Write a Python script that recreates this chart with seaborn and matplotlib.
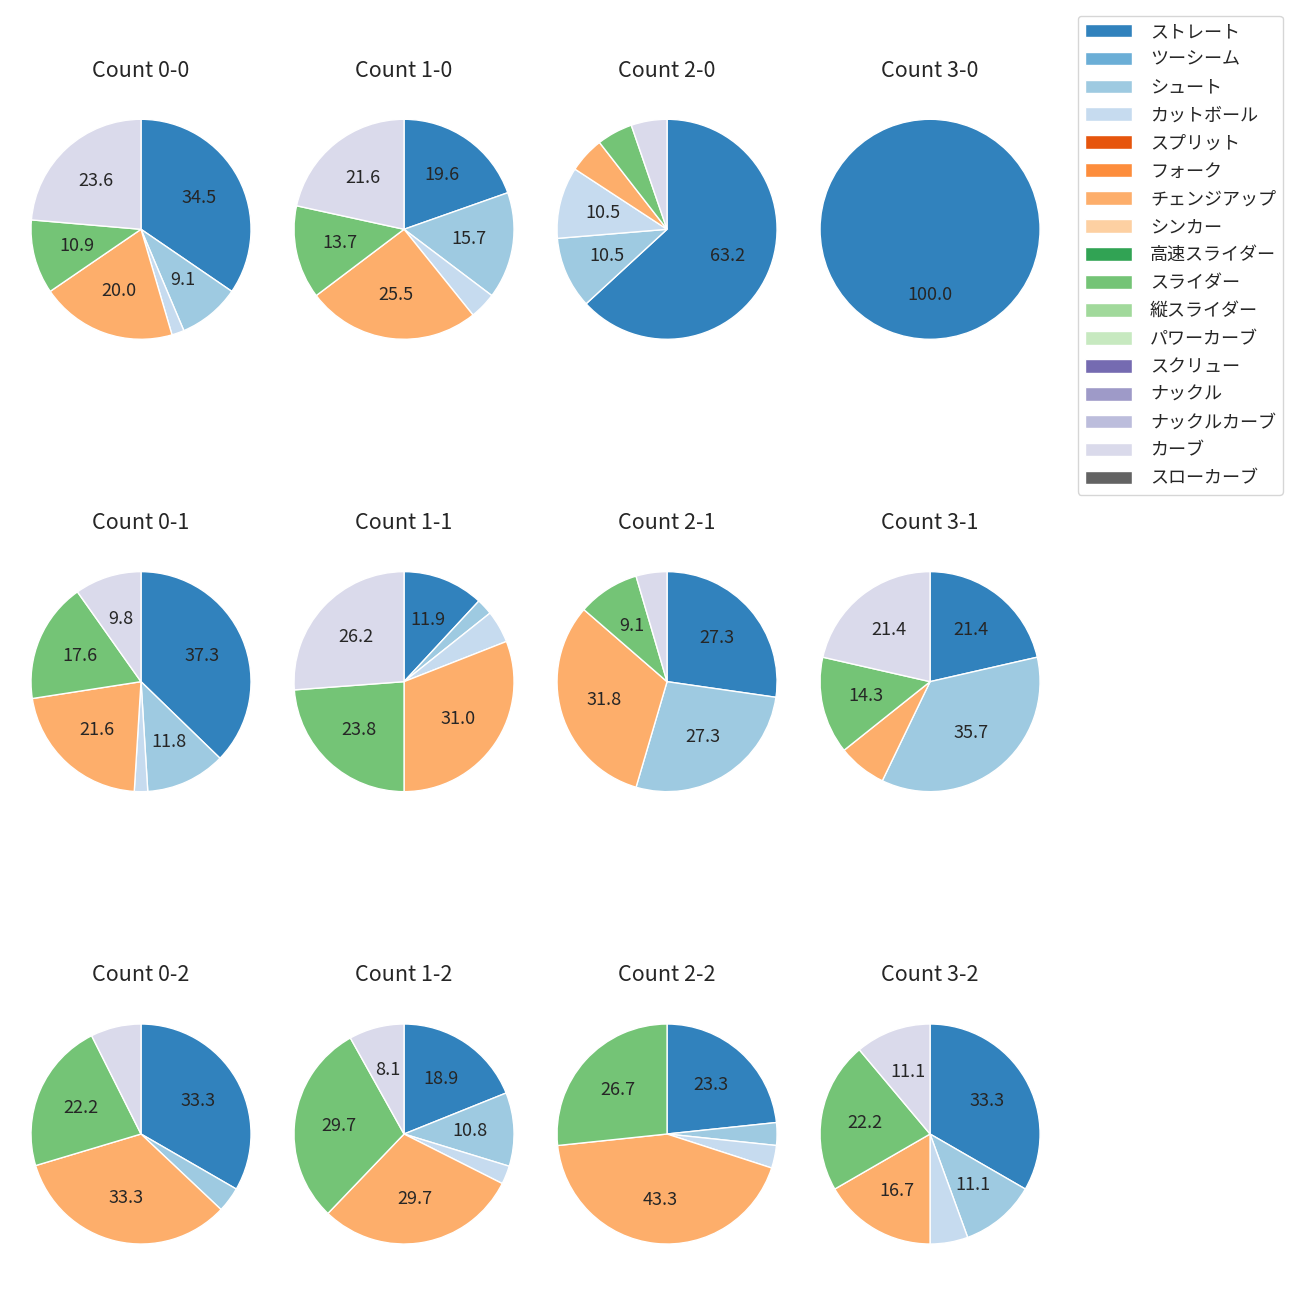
import matplotlib
matplotlib.use("Agg")
import matplotlib.pyplot as plt
import seaborn as sns
from matplotlib.patches import Patch

sns.set_theme(style="white")
plt.rcParams['font.family'] = ['Noto Sans CJK JP', 'DejaVu Sans']

# pitch types and colours (tab20c order)
pitch_types = ['ストレート', 'ツーシーム', 'シュート', 'カットボール', 'スプリット', 'フォーク',
               'チェンジアップ', 'シンカー', '高速スライダー', 'スライダー', '縦スライダー',
               'パワーカーブ', 'スクリュー', 'ナックル', 'ナックルカーブ', 'カーブ', 'スローカーブ']
palette = sns.color_palette('tab20c', 20)
pitch_colors = [palette[i] for i in range(16)] + [palette[16]]

counts = ['0-0', '1-0', '2-0', '3-0',
          '0-1', '1-1', '2-1', '3-1',
          '0-2', '1-2', '2-2', '3-2']

# pitch counts per ball-strike count, in pitch_types order
#                 St Tw Sh Cu Sp Fo Ch Si HS Sl VS PC Sc Kn KC Cv SC
pitches_0_0 = [19, 0, 5, 1, 0, 0, 11, 0, 0, 6, 0, 0, 0, 0, 0, 13, 0]
pitches_1_0 = [10, 0, 8, 2, 0, 0, 13, 0, 0, 7, 0, 0, 0, 0, 0, 11, 0]
pitches_2_0 = [12, 0, 2, 2, 0, 0, 1, 0, 0, 1, 0, 0, 0, 0, 0, 1, 0]
pitches_3_0 = [5, 0, 0, 0, 0, 0, 0, 0, 0, 0, 0, 0, 0, 0, 0, 0, 0]
pitches_0_1 = [19, 0, 6, 1, 0, 0, 11, 0, 0, 9, 0, 0, 0, 0, 0, 5, 0]
pitches_1_1 = [5, 0, 1, 2, 0, 0, 13, 0, 0, 10, 0, 0, 0, 0, 0, 11, 0]
pitches_2_1 = [6, 0, 6, 0, 0, 0, 7, 0, 0, 2, 0, 0, 0, 0, 0, 1, 0]
pitches_3_1 = [3, 0, 5, 0, 0, 0, 1, 0, 0, 2, 0, 0, 0, 0, 0, 3, 0]
pitches_0_2 = [9, 0, 1, 0, 0, 0, 9, 0, 0, 6, 0, 0, 0, 0, 0, 2, 0]
pitches_1_2 = [7, 0, 4, 1, 0, 0, 11, 0, 0, 11, 0, 0, 0, 0, 0, 3, 0]
pitches_2_2 = [7, 0, 1, 1, 0, 0, 13, 0, 0, 8, 0, 0, 0, 0, 0, 0, 0]
pitches_3_2 = [6, 0, 2, 1, 0, 0, 3, 0, 0, 4, 0, 0, 0, 0, 0, 2, 0]

all_pitches = [pitches_0_0, pitches_1_0, pitches_2_0, pitches_3_0,
               pitches_0_1, pitches_1_1, pitches_2_1, pitches_3_1,
               pitches_0_2, pitches_1_2, pitches_2_2, pitches_3_2]


def autopct_min(pct):
    # only label slices that are big enough
    return f'{pct:.1f}' if pct >= 8 else ''


fig, axes = plt.subplots(3, 4, figsize=(13, 13), dpi=100)
fig.subplots_adjust(left=0.0027, right=0.8212, top=0.939, bottom=0.0123,
                    wspace=-0.0436, hspace=0.508)

for ax, count, values in zip(axes.flat, counts, all_pitches):
    vals = [v for v in values if v > 0]
    cols = [c for v, c in zip(values, pitch_colors) if v > 0]
    ax.pie(vals, colors=cols, startangle=90, counterclock=False,
           autopct=autopct_min, textprops={'fontsize': 13})
    ax.set_title(f'Count {count}', fontsize=15.5, pad=11)

handles = [Patch(facecolor=c, label=p) for p, c in zip(pitch_types, pitch_colors)]
fig.legend(handles=handles, loc='upper right', bbox_to_anchor=(0.987, 0.988),
           borderaxespad=0, fontsize=13, handlelength=2.6, handleheight=0.8,
           handletextpad=1.0, labelspacing=0.55, frameon=True)

plt.savefig('out.png', dpi=100)
